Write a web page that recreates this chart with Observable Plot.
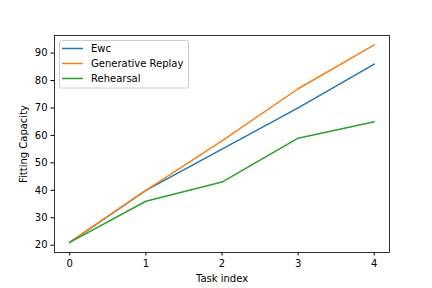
<!DOCTYPE html>
<html><head><meta charset="utf-8">
<script src="https://cdn.jsdelivr.net/npm/d3@7"></script>
<script src="https://cdn.jsdelivr.net/npm/@observablehq/plot@0.6"></script>
<style>body{margin:0;background:#fff}</style>
</head><body><div id="chart"></div>
<script>
const tasks = [0, 1, 2, 3, 4];
const series = ["Ewc", "Generative Replay", "Rehearsal"];
const ewc = [21, 40, 55, 70, 86];
const generativeReplay = [21, 40, 58, 77, 93];
const rehearsal = [21, 36, 43, 59, 65];
const colors = ["#1f77b4", "#ff7f0e", "#2ca02c"];
const yTicks = [20, 30, 40, 50, 60, 70, 80, 90];

const values = [ewc, generativeReplay, rehearsal];
const data = [];
series.forEach((s, i) => tasks.forEach((t, j) => data.push({series: s, task: t, value: values[i][j]})));

const font = "DejaVu Sans, sans-serif";
const plot = Plot.plot({
  width: 432, height: 288,
  marginLeft: 54, marginRight: 43, marginTop: 35, marginBottom: 36,
  style: {fontFamily: font, fontSize: "10px", color: "#000", background: "#fff"},
  x: {domain: [-0.2, 4.2]},
  y: {domain: [17.34, 96.4]},
  color: {domain: series, range: colors},
  marks: [
    Plot.axisX({ticks: tasks, tickFormat: d => String(d), tickSize: 3.5, tickPadding: 3.5, fontSize: 10,
      label: "Task index", labelAnchor: "center", labelArrow: "none", labelOffset: 29}),
    Plot.axisY({ticks: yTicks, tickSize: 3.5, tickPadding: 3.5, fontSize: 10,
      label: "Fitting Capacity", labelAnchor: "center", labelArrow: "none", labelOffset: 35}),
    Plot.lineY(data, {x: "task", y: "value", z: "series", stroke: "series", strokeWidth: 1.5}),
    Plot.frame({stroke: "#000", strokeWidth: 0.8})
  ]
});
document.getElementById("chart").appendChild(plot);

// legend (matplotlib style, upper left inside axes)
const svg = d3.select(plot);
const g = svg.append("g").attr("font-family", font).attr("font-size", 10).attr("text-anchor", "start");
g.append("rect").attr("x", 59.5).attr("y", 40.5).attr("width", 129).attr("height", 47.5)
  .attr("rx", 2).attr("fill", "#fff").attr("fill-opacity", 0.8).attr("stroke", "#ccc").attr("stroke-width", 1);
series.forEach((s, i) => {
  const y = 48.5 + i * 15;
  g.append("line").attr("x1", 62).attr("x2", 83).attr("y1", y).attr("y2", y)
    .attr("stroke", colors[i]).attr("stroke-width", 1.5);
  g.append("text").attr("x", 91).attr("y", y).attr("dy", "0.35em").attr("fill", "#000").text(s);
});
</script></body></html>
